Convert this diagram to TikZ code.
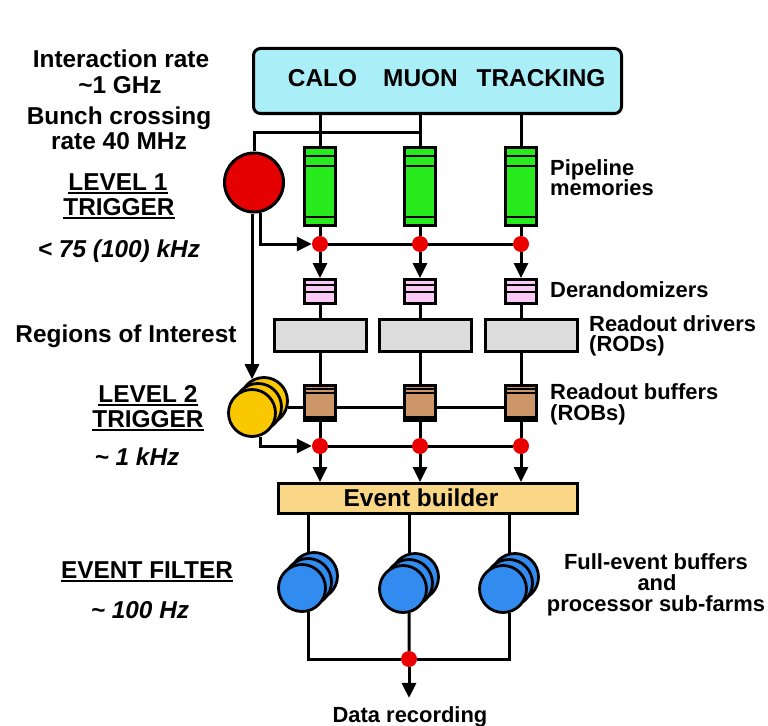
\documentclass[tikz,border=0pt]{standalone}
\usepackage{fontspec}
\setmainfont{Liberation Sans}
\usetikzlibrary{arrows.meta,backgrounds,calc}
\definecolor{detcyan}{RGB}{170,238,248}
\definecolor{pipegreen}{RGB}{40,235,30}
\definecolor{l1red}{RGB}{228,0,0}
\definecolor{dotred}{RGB}{235,0,0}
\definecolor{derpink}{RGB}{250,200,245}
\definecolor{rodgrey}{RGB}{220,220,220}
\definecolor{robbrown}{RGB}{205,150,105}
\definecolor{l2yellow}{RGB}{250,200,0}
\definecolor{ebyellow}{RGB}{250,215,135}
\definecolor{efblue}{RGB}{50,140,240}
\newcommand\bigf{\fontsize{24.5}{27}\selectfont\bfseries}
\newcommand\smf{\fontsize{22}{25}\selectfont\bfseries}
\newcommand\ulin[1]{\setbox0\hbox{#1}\rlap{\rule[-4bp]{\wd0}{2bp}}\box0}
\begin{document}
\begin{tikzpicture}[x=1bp,y=-1bp,
  bd/.style={draw=black,line width=3bp,inner sep=0pt},
  detbox/.style={bd,fill=detcyan,rounded corners=7bp,minimum width=368bp,minimum height=65bp},
  stripe/.style={line width=2bp},
  pipebox/.style={bd,fill=pipegreen,minimum width=31bp,minimum height=78bp,
    path picture={
      \draw[stripe] ([yshift=-8.5bp]path picture bounding box.north west) -- ([yshift=-8.5bp]path picture bounding box.north east);
      \draw[stripe] ([yshift=-18.5bp]path picture bounding box.north west) -- ([yshift=-18.5bp]path picture bounding box.north east);
      \draw[stripe] ([yshift=8.5bp]path picture bounding box.south west) -- ([yshift=8.5bp]path picture bounding box.south east);}},
  derbox/.style={bd,fill=derpink,minimum width=31bp,minimum height=24bp,
    path picture={
      \draw[stripe] ([yshift=-5.5bp]path picture bounding box.north west) -- ([yshift=-5.5bp]path picture bounding box.north east);
      \draw[stripe] ([yshift=-12.5bp]path picture bounding box.north west) -- ([yshift=-12.5bp]path picture bounding box.north east);}},
  rodbox/.style={bd,fill=rodgrey,minimum width=92bp,minimum height=32bp},
  robbox/.style={bd,fill=robbrown,minimum width=31bp,minimum height=35bp,
    path picture={
      \draw[line width=1.5bp] ([yshift=-3.5bp]path picture bounding box.north west) -- ([yshift=-3.5bp]path picture bounding box.north east);
      \draw[line width=1.5bp] ([yshift=-7.5bp]path picture bounding box.north west) -- ([yshift=-7.5bp]path picture bounding box.north east);
      \draw[line width=2.5bp] ([yshift=3bp]path picture bounding box.south west) -- ([yshift=3bp]path picture bounding box.south east);}},
  ebbox/.style={bd,fill=ebyellow,minimum width=299bp,minimum height=30bp},
  l1circ/.style={bd,circle,fill=l1red,minimum size=59bp},
  l2circ/.style={draw=black,line width=2.8bp,circle,inner sep=0pt,fill=l2yellow,minimum size=47bp},
  efcirc/.style={draw=black,line width=2.8bp,circle,inner sep=0pt,fill=efblue,minimum size=47bp},
  dot/.style={circle,fill=dotred,inner sep=0pt,minimum size=16bp},
  conn/.style={line width=3bp},
  arr/.style={conn,-{Triangle[length=15bp,width=14bp]}},
  tbig/.style={anchor=base,inner sep=0pt,font=\bigf},
  tbigit/.style={anchor=base,inner sep=0pt,font=\bigf\itshape},
  tsm/.style={anchor=base west,inner sep=0pt,font=\smf},
  tsmc/.style={anchor=base,inner sep=0pt,font=\smf}]
\useasboundingbox (0,0) rectangle (768,726);

% detector box
\node[detbox] (det) at (437.5,81) {};
\node[tbig] (calo) at (322.5,87) {CALO};
\node[tbig] (muon) at (420.5,87) {MUON};
\node[tbig] (trk) at (541,87) {TRACKING};

% columns
\node[pipebox] (pm1) at (320,186.5) {};
\node[pipebox] (pm2) at (420,186.5) {};
\node[pipebox] (pm3) at (521,186.5) {};
\node[dot] (d1) at (320,244) {};
\node[dot] (d2) at (420,244) {};
\node[dot] (d3) at (521,244) {};
\node[derbox] (dr1) at (320,291.5) {};
\node[derbox] (dr2) at (420,291.5) {};
\node[derbox] (dr3) at (521,291.5) {};
\node[rodbox] (rod1) at (320.5,335.5) {};
\node[rodbox] (rod2) at (425,335.5) {};
\node[rodbox] (rod3) at (531,335.5) {};
\node[robbox] (rb1) at (320,403) {};
\node[robbox] (rb2) at (420,403) {};
\node[robbox] (rb3) at (521,403) {};
\node[dot] (e1) at (320,446) {};
\node[dot] (e2) at (420,446) {};
\node[dot] (e3) at (521,446) {};
\node[ebbox] (eb) at (428,498.5) {};
\node[tbig] (ebt) at (421,506) {Event builder};

% trigger processors
\node[l1circ] (l1) at (254,182.5) {};
\node[l2circ] (l2c) at (264,401) {};
\node[l2circ] (l2b) at (258,407) {};
\node[l2circ] (l2a) at (252,413) {};

% event filter farms
\node[efcirc] (fb1c) at (314,576) {};
\node[efcirc] (fb1b) at (308,582) {};
\node[efcirc] (fb1a) at (302,588) {};
\node[efcirc] (fb2c) at (415,577) {};
\node[efcirc] (fb2b) at (409,583) {};
\node[efcirc] (fb2a) at (403,589) {};
\node[efcirc] (fb3c) at (515,577) {};
\node[efcirc] (fb3b) at (509,583) {};
\node[efcirc] (fb3a) at (503,589) {};
\node[dot] (drec) at (409,659) {};
\node[tsmc] (rec) at (410,722) {Data recording};

\coordinate (tap) at (pm2.north |- 0,133);

% connectors
\begin{scope}[on background layer]
\foreach \i in {1,2,3} {
  \draw[conn] (pm\i.north |- det.south) -- (pm\i.north);
  \draw[conn] (pm\i) -- (d\i);
  \draw[arr] (d\i) -- (dr\i);
  \draw[conn] (dr\i.south) -- (dr\i.south |- rod\i.north);
  \draw[conn] (rb\i.north |- rod\i.south) -- (rb\i.north);
  \draw[conn] (rb\i) -- (e\i);
  \draw[arr] (e\i) -- (e\i |- eb.north);
  \draw[conn] (fb\i c.102 |- eb.south) -- (fb\i c.102);
}
\draw[conn] (d1) -- (d3);
\draw[conn] (e1) -- (e3);
\draw[conn] (l1.north) |- (tap);
\draw[arr] ([xshift=-2bp]l1.south) -- ([xshift=-2bp]l1.south |- l2c.119);
\draw[arr] (l1.-77) |- (d1);
\draw[conn] (l2c.-16) -- (l2c.-16 -| rb3.west);
\draw[arr] (l2a.-71) |- (e1);
\draw[conn] (fb1a.-74) |- (drec) -| (fb3a.-75);
\draw[conn] (fb2a.-76) -- (drec);
\draw[arr,shorten >=8bp] (drec) -- (drec |- rec.north);
\end{scope}

% left labels
\node[tbig] (ir1) at (121,68) {Interaction rate};
\node[tbig] (ir2) at (120,94) {\textasciitilde1 GHz};
\node[tbig] (bc1) at (119,125) {Bunch crossing};
\node[tbig] (bc2) at (119,150) {rate 40 MHz};
\node[tbig] (lv1a) at (118,190) {\ulin{LEVEL 1}};
\node[tbig] (lv1b) at (119,215) {\ulin{TRIGGER}};
\node[tbigit] (lv1r) at (119,257) {< 75 (100) kHz};
\node[tbig] (roi) at (126,342) {Regions of Interest};
\node[tbig] (lv2a) at (148,402) {\ulin{LEVEL 2}};
\node[tbig] (lv2b) at (148,427) {\ulin{TRIGGER}};
\node[tbigit] (lv2r) at (137,465) {\textasciitilde\ 1 kHz};
\node[tbig] (efa) at (147,578) {\ulin{EVENT FILTER}};
\node[tbigit] (efr) at (140,618) {\textasciitilde\ 100 Hz};

% right labels
\node[tsm] (pl1) at (550,175) {Pipeline};
\node[tsm] (pl2) at (550,195) {memories};
\node[tsm] (der) at (550,297) {Derandomizers};
\node[tsm] (rd1) at (589,331) {Readout drivers};
\node[tsm] (rd2) at (589,351) {(RODs)};
\node[tsm] (rbl1) at (550,399) {Readout buffers};
\node[tsm] (rbl2) at (550,420) {(ROBs)};
\node[tsmc] (fe1) at (656,569) {Full-event buffers};
\node[tsmc] (fe2) at (657,590) {and};
\node[tsmc] (fe3) at (656,611) {processor sub-farms};
\end{tikzpicture}
\end{document}
